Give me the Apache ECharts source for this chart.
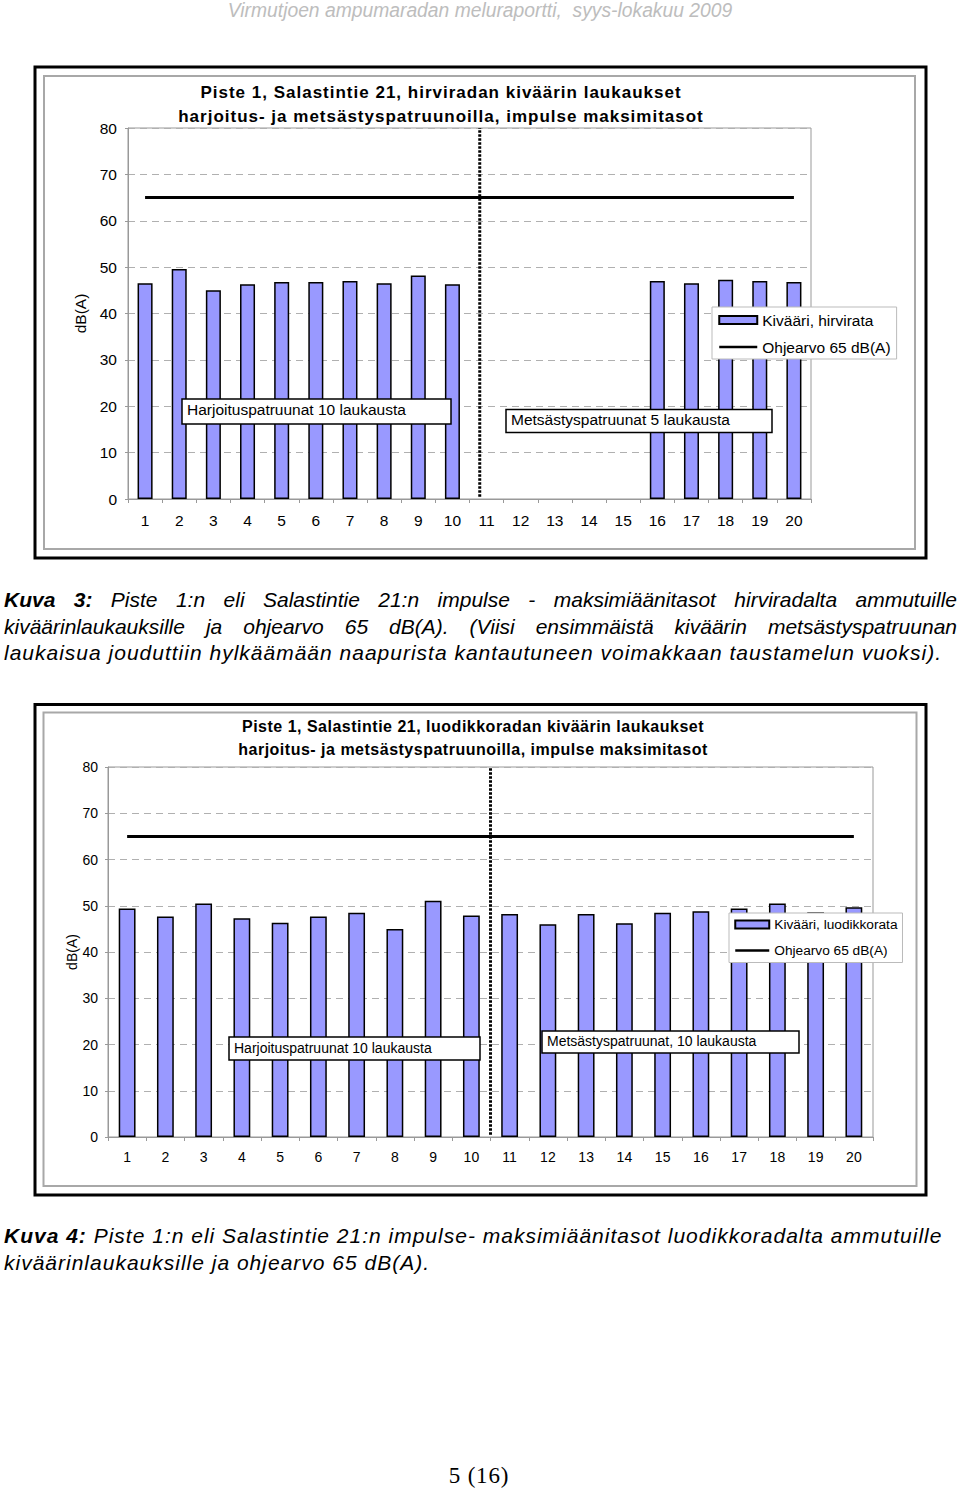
<!DOCTYPE html>
<html>
<head>
<meta charset="utf-8">
<script src="https://cdn.jsdelivr.net/npm/echarts@6/dist/echarts.min.js"></script>
<style>
  html, body { margin: 0; padding: 0; background: #fff; }
  #page { position: relative; width: 960px; height: 1492px; overflow: hidden; }
  #chart { position: absolute; left: 0; top: 0; width: 960px; height: 1492px; }
  #chart text[style*="bold"][style*="17px"] { letter-spacing: 1px; }
  #chart text[style*="bold"][style*="16px"] { letter-spacing: 0.5px; }
  .txt { position: absolute; font-family: "Liberation Sans", Arial, sans-serif; color: #000; white-space: nowrap; }
  .header { left: 0; width: 960px; top: 0px; text-align: center; font-style: italic; font-size: 19.3px; color: #bdbdbd; }
  .cap { left: 4px; width: 953px; font-style: italic; font-size: 21px; line-height: 26.5px; letter-spacing: 1px; }
  .just { text-align: justify; text-align-last: justify; letter-spacing: 0; }
  .footer { left: 0; width: 958px; top: 1463px; text-align: center; font-family: "Liberation Serif", "Times New Roman", serif; font-size: 23px; letter-spacing: 0.8px; }
</style>
</head>
<body>
<div id="page">
  <div id="chart"></div>
  <div class="txt header">Virmutjoen ampumaradan meluraportti,&nbsp; syys-lokakuu 2009</div>
  <div class="txt cap just" style="top:587px"><b>Kuva 3:</b> Piste 1:n eli Salastintie 21:n impulse - maksimiäänitasot hirviradalta ammutuille</div>
  <div class="txt cap just" style="top:613.5px">kiväärinlaukauksille ja ohjearvo 65 dB(A). (Viisi ensimmäistä kiväärin metsästyspatruunan</div>
  <div class="txt cap" style="top:640px">laukaisua jouduttiin hylkäämään naapurista kantautuneen voimakkaan taustamelun vuoksi).</div>
  <div class="txt cap" style="top:1223px"><b>Kuva 4:</b> Piste 1:n eli Salastintie 21:n impulse- maksimiäänitasot luodikkoradalta ammutuille</div>
  <div class="txt cap" style="top:1249.5px">kiväärinlaukauksille ja ohjearvo 65 dB(A).</div>
  <div class="txt footer">5 (16)</div>
</div>
<script>
// ---- data ----
const categories = ['1','2','3','4','5','6','7','8','9','10','11','12','13','14','15','16','17','18','19','20'];
const hirvirata = [46.5, 49.6, 45.0, 46.3, 46.8, 46.8, 47.0, 46.5, 48.2, 46.3, null, null, null, null, null, 47.0, 46.5, 47.3, 47.0, 46.8];
const luodikkorata = [49.4, 47.7, 50.5, 47.3, 46.3, 47.7, 48.5, 45.0, 51.1, 47.9, 48.2, 46.0, 48.2, 46.2, 48.5, 48.8, 49.4, 50.5, 48.6, 49.7];
const ohjearvo = [65, 65, 65, 65, 65, 65, 65, 65, 65, 65, 65, 65, 65, 65, 65, 65, 65, 65, 65, 65];
const separator1 = [[10.3, 0.5], [10.3, 80]];
const separator2 = [[10.0, 0.5], [10.0, 80]];
const yMin = 0, yMax = 80, yStep = 10;
const title1 = 'Piste 1, Salastintie 21, hirviradan kiväärin laukaukset\nharjoitus- ja metsästyspatruunoilla, impulse maksimitasot';
const title2 = 'Piste 1, Salastintie 21, luodikkoradan kiväärin laukaukset\nharjoitus- ja metsästyspatruunoilla, impulse maksimitasot';
const name1 = 'Kivääri, hirvirata';
const name2 = 'Kivääri, luodikkorata';
const lineName = 'Ohjearvo 65 dB(A)';
const note1a = 'Harjoituspatruunat 10 laukausta';
const note1b = 'Metsästyspatruunat 5 laukausta';
const note2a = 'Harjoituspatruunat 10 laukausta';
const note2b = 'Metsästyspatruunat, 10 laukausta';

const FONT = '"Liberation Sans", Arial, sans-serif';
const chart = echarts.init(document.getElementById('chart'), null, { renderer: 'svg' });

function yAxis(gridIndex, fs, gap, margin) {
  return {
    type: 'value', gridIndex, min: yMin, max: yMax, interval: yStep,
    name: 'dB(A)', nameLocation: 'middle', nameGap: gap, nameRotate: 90, nameMoveOverlap: false,
    nameTextStyle: { fontFamily: FONT, fontSize: fs, color: '#000' },
    axisLine: { show: true, lineStyle: { color: '#999', width: 1 } },
    axisTick: { show: true, length: 3, lineStyle: { color: '#999' } },
    axisLabel: { fontFamily: FONT, fontSize: fs, color: '#000', margin },
    splitLine: { show: true, lineStyle: { color: '#b0b0b0', type: [7, 5], width: 1 } }
  };
}
function xAxis(gridIndex, fs) {
  return {
    type: 'category', gridIndex, data: categories, boundaryGap: true,
    axisLine: { show: true, lineStyle: { color: '#999', width: 1 } },
    axisTick: { show: true, length: 4, alignWithLabel: false, lineStyle: { color: '#999' } },
    axisLabel: { fontFamily: FONT, fontSize: fs, color: '#000', margin: 13, interval: 0 }
  };
}
function hiddenX(gridIndex) {
  return { type: 'value', gridIndex, min: 0, max: 20, show: false };
}
function note(x, y, w, h, text, fs, ty) {
  return [
    { type: 'rect', z: 100, shape: { x, y, width: w, height: h }, style: { fill: '#fff', stroke: '#000', lineWidth: 1.5 } },
    { type: 'text', z: 101, x: x + 5, y: ty, style: { text, fontFamily: FONT, fontSize: fs, fill: '#000', textVerticalAlign: 'middle' } }
  ];
}
const lineLegendItem = {
  name: lineName,
  itemStyle: { color: 'rgba(0,0,0,0)', borderWidth: 0, opacity: 0 },
  lineStyle: { color: '#000', width: 2.5 }
};

const option = {
  animation: false,
  title: [
    { text: title1, left: 441, top: 80, textAlign: 'center', padding: 0,
      textStyle: { fontFamily: FONT, fontSize: 17, fontWeight: 'bold', color: '#000', lineHeight: 24 } },
    { text: title2, left: 473, top: 715, textAlign: 'center', padding: 0,
      textStyle: { fontFamily: FONT, fontSize: 16, fontWeight: 'bold', color: '#000', lineHeight: 23 } }
  ],
  grid: [
    { left: 128, top: 128, width: 683, height: 371, show: true, borderColor: '#999', borderWidth: 1, backgroundColor: 'transparent' },
    { left: 108, top: 767, width: 765, height: 370, show: true, borderColor: '#999', borderWidth: 1, backgroundColor: 'transparent' }
  ],
  xAxis: [xAxis(0, 15.5), xAxis(1, 14), hiddenX(0), hiddenX(1)],
  yAxis: [yAxis(0, 15.5, 40, 11), yAxis(1, 14, 29, 10)],
  legend: [
    { data: [{ name: name1, icon: 'rect' }, lineLegendItem], orient: 'vertical', left: 712, top: 307, padding: [5, 6, 4, 6],
      itemGap: 11, itemWidth: 38, itemHeight: 8, backgroundColor: '#fff', borderColor: '#bbb', borderWidth: 1,
      textStyle: { fontFamily: FONT, fontSize: 15.5, color: '#000' }, selectedMode: false },
    { data: [{ name: name2, icon: 'rect' }, lineLegendItem], orient: 'vertical', left: 729, top: 913, padding: [4.5, 5, 5, 5],
      itemGap: 12, itemWidth: 34, itemHeight: 8, backgroundColor: '#fff', borderColor: '#bbb', borderWidth: 1,
      textStyle: { fontFamily: FONT, fontSize: 13.7, color: '#000' }, selectedMode: false }
  ],
  series: [
    { name: name1, type: 'bar', xAxisIndex: 0, yAxisIndex: 0, data: hirvirata, barWidth: '44%',
      itemStyle: { color: '#9999ff', borderColor: '#000', borderWidth: 1.5 } },
    { name: lineName, type: 'line', xAxisIndex: 0, yAxisIndex: 0, data: ohjearvo, symbol: 'none',
      lineStyle: { color: '#000', width: 3 }, itemStyle: { color: '#000' }, z: 3 },
    { name: 'sep1', type: 'line', xAxisIndex: 2, yAxisIndex: 0, data: separator1, symbol: 'none',
      lineStyle: { color: '#000', width: 3, type: [2.5, 1.5] }, z: 4 },
    { name: name2, type: 'bar', xAxisIndex: 1, yAxisIndex: 1, data: luodikkorata, barWidth: '44%',
      itemStyle: { color: '#9999ff', borderColor: '#000', borderWidth: 1.5 } },
    { name: lineName, type: 'line', xAxisIndex: 1, yAxisIndex: 1, data: ohjearvo, symbol: 'none',
      lineStyle: { color: '#000', width: 3 }, itemStyle: { color: '#000' }, z: 3 },
    { name: 'sep2', type: 'line', xAxisIndex: 3, yAxisIndex: 1, data: separator2, symbol: 'none',
      lineStyle: { color: '#000', width: 3, type: [2.5, 1.5] }, z: 4 }
  ],
  graphic: [
    { type: 'rect', z: 0, shape: { x: 35, y: 67, width: 891, height: 491 }, style: { fill: 'none', stroke: '#000', lineWidth: 3 } },
    { type: 'rect', z: 0, shape: { x: 44, y: 76, width: 871, height: 473 }, style: { fill: 'none', stroke: '#a8a8a8', lineWidth: 2 } },
    { type: 'rect', z: 0, shape: { x: 35, y: 704.5, width: 891, height: 490.5 }, style: { fill: 'none', stroke: '#000', lineWidth: 3 } },
    { type: 'rect', z: 0, shape: { x: 43.5, y: 712.5, width: 873, height: 473.5 }, style: { fill: 'none', stroke: '#a8a8a8', lineWidth: 2 } }
  ].concat(
    note(182, 399, 269, 25, note1a, 15.5, 409.5),
    note(506, 409.5, 266, 23, note1b, 15.5, 419.5),
    note(229, 1037, 251, 23, note2a, 14, 1047.5),
    note(542, 1031, 257, 22, note2b, 14, 1040.5)
  )
};
chart.setOption(option);
</script>
</body>
</html>
